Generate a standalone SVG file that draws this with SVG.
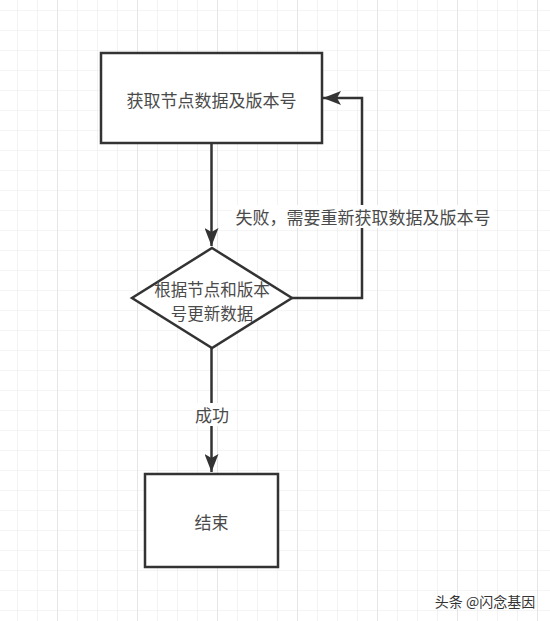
<svg xmlns="http://www.w3.org/2000/svg" width="550" height="621" viewBox="0 0 550 621">
<defs>
<pattern id="grid" x="-2" y="-9" width="20" height="20" patternUnits="userSpaceOnUse">
<path d="M20,0 V20 M0,20 H20" fill="none" stroke="#ececec" stroke-width="1.2"/>
</pattern>
<pattern id="gridMajor" x="-22" y="0" width="80" height="621" patternUnits="userSpaceOnUse">
<path d="M80,0 V621" fill="none" stroke="#dedede" stroke-width="1.2"/>
</pattern>
<marker id="arrow" markerUnits="userSpaceOnUse" markerWidth="20" markerHeight="14" refX="18" refY="7" orient="auto" viewBox="0 0 20 14">
<path d="M0,0 L18,7 L0,14 L4,7 Z" fill="#333"/>
</marker>
<style>
.shape{fill:#fff;stroke:#333;stroke-width:2.5}
.edge{fill:none;stroke:#333;stroke-width:2.5}
.t{font-family:"Noto Sans CJK SC","Noto Sans",sans-serif;font-size:17px;fill:#4a4a4a;text-anchor:middle;dominant-baseline:central}
.d{font-size:16.5px}
.lbl{fill:#fff}
</style>
</defs>
<rect width="550" height="621" fill="#fff"/>
<rect width="550" height="621" fill="url(#grid)"/>
<rect width="550" height="621" fill="url(#gridMajor)"/>

<g id="connectors">
<path class="edge" d="M211.5,143 V246" marker-end="url(#arrow)"/>
<path class="edge" d="M292,298 H362 V98 H323" marker-end="url(#arrow)"/>
<path class="edge" d="M211.5,348 V472" marker-end="url(#arrow)"/>
<rect class="lbl" x="232" y="205" width="262" height="23"/>
<text class="t" x="363" y="216">失败，需要重新获取数据及版本号</text>
<rect class="lbl" x="193" y="403" width="38" height="23"/>
<text class="t" x="212" y="414">成功</text>
</g>

<g id="node-fetch">
<rect class="shape" x="101" y="53" width="221" height="90"/>
<text class="t" x="211.5" y="99">获取节点数据及版本号</text>
</g>

<g id="node-update">
<polygon class="shape" points="212,248 292,298 212,348 132,298"/>
<text class="t d" x="212" y="289">根据节点和版本</text>
<text class="t d" x="212" y="313">号更新数据</text>
</g>

<g id="node-end">
<rect class="shape" x="145" y="474" width="133" height="93"/>
<text class="t" x="211.5" y="521">结束</text>
</g>

<text x="485" y="601" font-family="'Noto Sans CJK SC','Noto Sans',sans-serif" font-size="14" fill="#333" text-anchor="middle" dominant-baseline="central">头条 @闪念基因</text>
</svg>
